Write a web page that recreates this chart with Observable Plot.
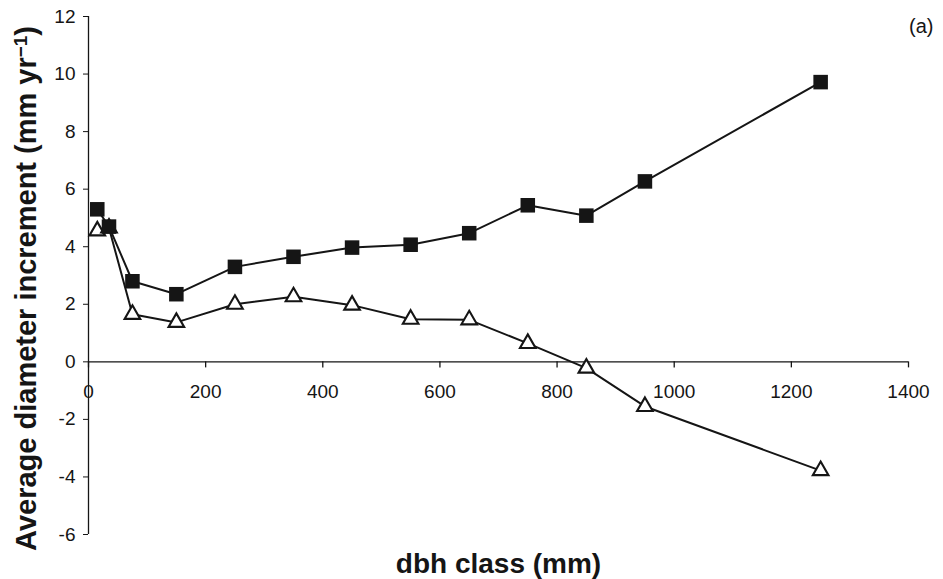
<!DOCTYPE html>
<html>
<head>
<meta charset="utf-8">
<script src="https://cdn.jsdelivr.net/npm/d3@7"></script>
<script src="https://cdn.jsdelivr.net/npm/@observablehq/plot@0.6"></script>
<style>
  html, body { margin: 0; padding: 0; background: #fff; }
  svg { display: block; }
</style>
</head>
<body>
<div id="chart"></div>
<script>
// dbh class midpoints (mm)
const dbhClass = [15, 35, 75, 150, 250, 350, 450, 550, 650, 750, 850, 950, 1250];
// filled squares series (mm/yr)
const squareVals = [5.3, 4.7, 2.8, 2.35, 3.3, 3.65, 3.97, 4.07, 4.47, 5.44, 5.08, 6.27, 9.72];
// open triangles series (mm/yr)
const triangleVals = [4.55, 4.65, 1.65, 1.37, 2.0, 2.26, 1.97, 1.48, 1.46, 0.64, -0.22, -1.55, -3.78];
// axis ticks
const xTicks = [0, 200, 400, 600, 800, 1000, 1200, 1400];
const yTicks = [-6, -4, -2, 0, 2, 4, 6, 8, 10, 12];
// titles
const yTitle = "Average diameter increment (mm yr";
const yTitleSup = "\u22121";
const xTitle = "dbh class (mm)";
const panelLabel = "(a)";

const squares = dbhClass.map((x, i) => ({x, y: squareVals[i]}));
const triangles = dbhClass.map((x, i) => ({x, y: triangleVals[i]}));

const FONT = "'Liberation Sans', Arial, Helvetica, sans-serif";
const INK = "#151515";

const chart = Plot.plot({
  width: 943,
  height: 579,
  marginLeft: 88,
  marginRight: 35,
  marginTop: 16,
  marginBottom: 45,
  style: {fontFamily: FONT, background: "#fff", color: INK},
  x: {domain: [0, 1400], axis: null},
  y: {domain: [-6, 12], axis: null},
  marks: [
    // y axis
    Plot.ruleX([0], {y1: -6, y2: 12, stroke: INK, strokeWidth: 1.3}),
    Plot.axisY(yTicks, {anchor: "left", tickSize: 5, tickPadding: 8, fontSize: 19,
      tickFormat: d => String(d), stroke: INK, fill: INK, label: null}),
    // x axis at y = 0
    Plot.ruleY([0], {x1: 0, x2: 1400, stroke: INK, strokeWidth: 1.3}),
    Plot.ruleX(xTicks, {x: d => d, y1: 0, y2: -0.21, stroke: INK, strokeWidth: 1.3}),
    Plot.text(xTicks, {x: d => d, y: 0, dy: 30, text: d => String(d), fontSize: 19, fill: INK}),
    // series lines
    Plot.line(squares, {x: "x", y: "y", stroke: INK, strokeWidth: 2}),
    Plot.line(triangles, {x: "x", y: "y", stroke: INK, strokeWidth: 2}),
    // markers
    Plot.dot(triangles, {x: "x", y: "y", symbol: "triangle", r: 5.8, fill: "#fff", stroke: INK, strokeWidth: 2.1}),
    Plot.dot(squares, {x: "x", y: "y", symbol: "square", r: 8.2, fill: INK, stroke: "none"}),
    // axis titles
    Plot.text([yTitle], {frameAnchor: "left", rotate: -90,
      textAnchor: "middle", lineAnchor: "middle", className: "ytitle",
      dx: -62, dy: 13, fontSize: 29, fontWeight: "bold", fill: INK}),
    Plot.text([xTitle], {frameAnchor: "bottom", lineAnchor: "middle", dy: 30,
      fontSize: 28, fontWeight: "bold", fill: INK}),
    // panel label
    Plot.text([panelLabel], {frameAnchor: "top-right", lineAnchor: "middle", dx: 25, dy: 10,
      fontSize: 20, fill: INK, textAnchor: "end"})
  ]
});

// add superscript and closing parenthesis to the y title
d3.select(chart).selectAll("g.ytitle text").each(function () {
  const t = d3.select(this);
  t.append("tspan").attr("dy", "-0.45em").attr("font-size", "0.65em").text(yTitleSup);
  t.append("tspan").attr("dy", "0.3em").text(")");
});

document.getElementById("chart").appendChild(chart);
</script>
</body>
</html>
